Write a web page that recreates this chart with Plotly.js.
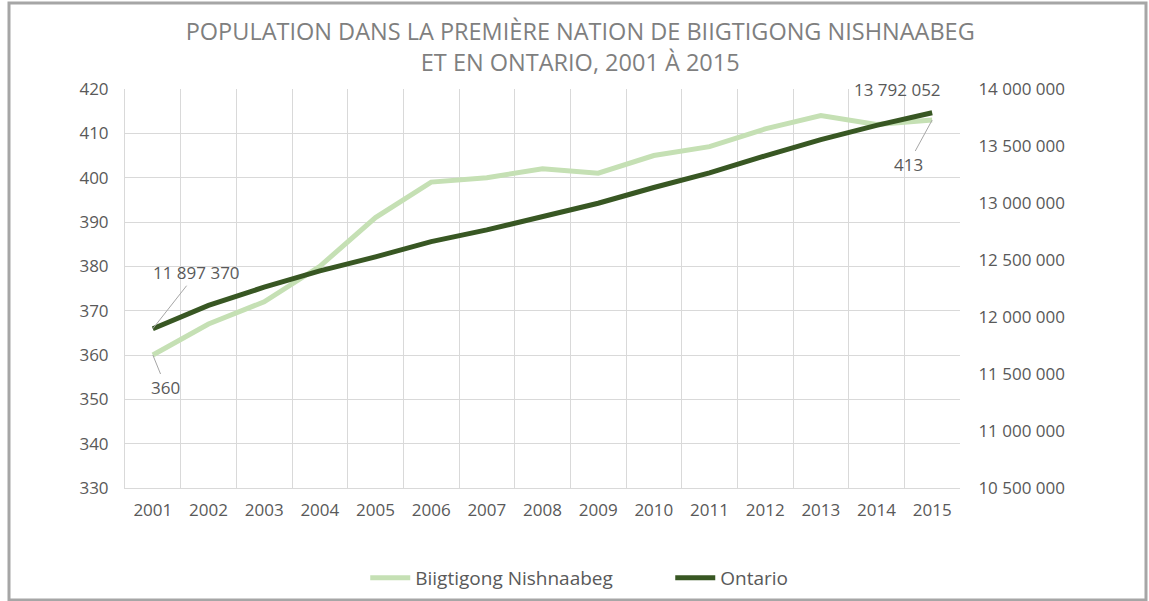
<!DOCTYPE html>
<html>
<head>
<meta charset="utf-8">
<script src="https://cdn.plot.ly/plotly-3.0.1.min.js"></script>
<style>
html,body{margin:0;padding:0;background:#fff;}
#chart{width:1149px;height:601px;}
</style>
</head>
<body>
<div id="chart"></div>
<script>
const years = ["2001","2002","2003","2004","2005","2006","2007","2008","2009","2010","2011","2012","2013","2014","2015"];
const biigtigong = [360,367,372,380,391,399,400,402,401,405,407,411,414,412,413];
const ontario = [11897370,12102045,12261680,12404664,12527990,12661566,12764195,12882625,12997687,13135778,13263544,13413702,13555754,13680425,13792052];
const titleText = "POPULATION DANS LA PREMIÈRE NATION DE BIIGTIGONG NISHNAABEG<br>ET EN ONTARIO, 2001 À 2015";

const FONT = "'Open Sans', Lato, sans-serif";
const tickColor = "#595959";
const grid = "#d9d9d9";

const traces = [
  {x: years, y: biigtigong, name: "Biigtigong Nishnaabeg", type: "scatter", mode: "lines",
   line: {color: "#c5e0b4", width: 5}, yaxis: "y"},
  {x: years, y: ontario, name: "Ontario", type: "scatter", mode: "lines",
   line: {color: "#385723", width: 5}, yaxis: "y2"}
];

const n = years.length;
const first = 0, last = n - 1;
const layout = {
  width: 1149, height: 601,
  margin: {l: 125, r: 189, t: 89, b: 113, autoexpand: false},
  paper_bgcolor: "#fff", plot_bgcolor: "#fff",
  separators: ", ",
  font: {family: FONT, color: tickColor, size: 17},
  title: {text: titleText, xref: "container", x: 0.505, xanchor: "center",
          yref: "container", y: 0.933, yanchor: "middle",
          font: {family: FONT, size: 23.5, color: "#7f7f7f"}},
  xaxis: {type: "category", tickson: "boundaries", showgrid: true, gridcolor: grid, gridwidth: 1,
          showline: true, linecolor: grid, ticks: "", ticklabelstandoff: 7,
          zeroline: false, tickfont: {size: 17, color: tickColor}, range: [-0.5, n - 0.5]},
  yaxis: {range: [330, 420], dtick: 10, tick0: 330, showgrid: true, gridcolor: grid, gridwidth: 1,
          showline: true, linecolor: grid, zeroline: false, ticks: "outside", ticklen: 12,
          tickcolor: "rgba(0,0,0,0)", tickfont: {size: 17, color: tickColor}},
  yaxis2: {overlaying: "y", side: "right", range: [10500000, 14000000], dtick: 500000, tick0: 10500000,
           showgrid: false, zeroline: false, showline: false, ticks: "outside", ticklen: 14,
           tickcolor: "rgba(0,0,0,0)", tickformat: ",d",
           tickfont: {size: 17, color: tickColor}},
  showlegend: true,
  legend: {orientation: "h", xref: "paper", x: 0.653, xanchor: "center",
           yref: "container", y: (601 - 578) / 601, yanchor: "middle",
           font: {size: 19, color: tickColor}, itemwidth: 40, entrywidth: 250, entrywidthmode: "pixels"},
  annotations: [
    {x: first, y: ontario[first], xref: "x", yref: "y2", text: "11 897 370", showarrow: true,
     arrowhead: 0, arrowwidth: 1, arrowcolor: "#a6a6a6", ax: 44, ay: -56,
     font: {size: 17, color: tickColor}},
    {x: first, y: biigtigong[first], xref: "x", yref: "y", text: "360", showarrow: true,
     arrowhead: 0, arrowwidth: 1, arrowcolor: "#a6a6a6", ax: 13, ay: 32,
     font: {size: 17, color: tickColor}},
    {x: last, y: ontario[last], xref: "x", yref: "y2", text: "13 792 052", showarrow: false,
     xshift: -35, yshift: 23, font: {size: 17, color: tickColor}},
    {x: last, y: biigtigong[last], xref: "x", yref: "y", text: "413", showarrow: true,
     arrowhead: 0, arrowwidth: 1, arrowcolor: "#a6a6a6", ax: -24, ay: 44,
     font: {size: 17, color: tickColor}}
  ],
  shapes: [
    {type: "rect", xref: "paper", yref: "paper",
     x0: (9 - 125) / 835, x1: (1146 - 125) / 835,
     y0: (488 - 600) / 399, y1: (488 - 3) / 399,
     line: {color: "#a6a6a6", width: 3}, fillcolor: "rgba(0,0,0,0)", layer: "below"}
  ]
};

Plotly.newPlot("chart", traces, layout, {displayModeBar: false, staticPlot: true});
</script>
</body>
</html>
